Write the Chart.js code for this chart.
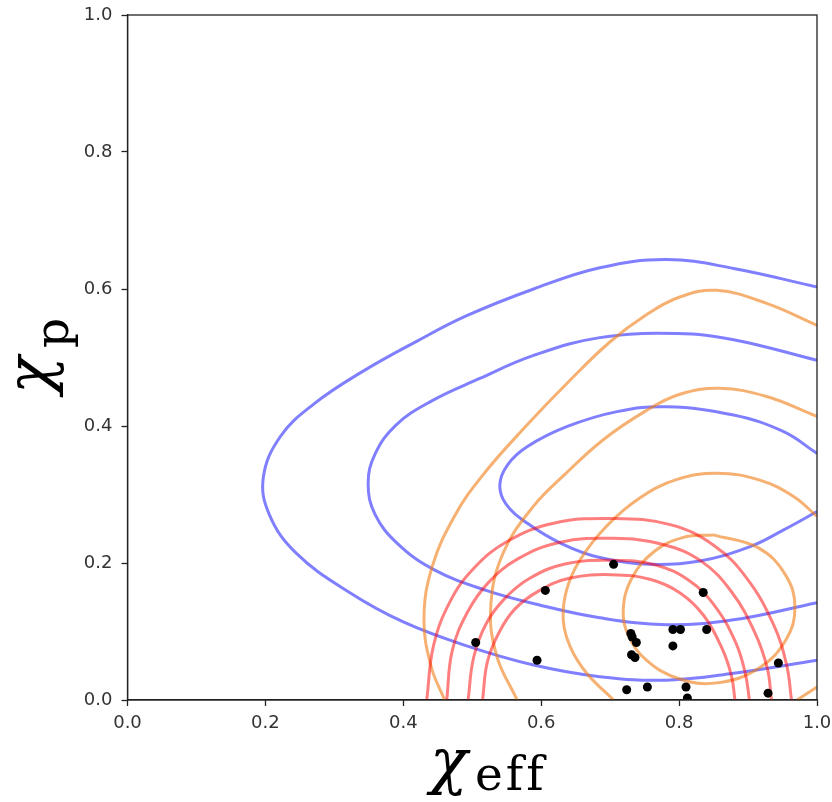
<!DOCTYPE html>
<html><head><meta charset="utf-8">
<script src="https://cdn.jsdelivr.net/npm/chart.js@4.4.0/dist/chart.umd.min.js"></script>
<style>html,body{margin:0;padding:0;background:#fff;} canvas{display:block;}</style>
</head><body>
<canvas id="c" width="832" height="802"></canvas>
<script>
// ---- data ----
const xTicks = [0.0, 0.2, 0.4, 0.6, 0.8, 1.0];
const yTicks = [0.0, 0.2, 0.4, 0.6, 0.8, 1.0];

// blue contours (chi_eff, chi_p)
const blueOuter = [[1.0,0.603],[0.879,0.630],[0.782,0.643],[0.685,0.631],[0.589,0.600],[0.492,0.561],[0.420,0.524],[0.340,0.479],[0.270,0.432],[0.222,0.385],[0.197,0.325],[0.206,0.270],[0.245,0.214],[0.322,0.157],[0.400,0.114],[0.492,0.079],[0.589,0.051],[0.685,0.034],[0.782,0.029],[0.879,0.039],[1.0,0.058]];
const blueMiddle = [[1.0,0.496],[0.879,0.526],[0.797,0.535],[0.685,0.529],[0.589,0.503],[0.510,0.469],[0.440,0.436],[0.389,0.401],[0.359,0.359],[0.349,0.316],[0.359,0.271],[0.392,0.228],[0.445,0.190],[0.520,0.160],[0.600,0.138],[0.685,0.120],[0.782,0.110],[0.879,0.117],[1.0,0.142]];
const blueInner = [[1.0,0.360],[0.951,0.392],[0.879,0.416],[0.782,0.428],[0.710,0.421],[0.637,0.399],[0.580,0.370],[0.551,0.343],[0.540,0.314],[0.549,0.286],[0.580,0.258],[0.630,0.228],[0.685,0.208],[0.758,0.198],[0.830,0.203],[0.903,0.224],[0.951,0.248],[1.0,0.275]];

// orange contours
const orangeOuter = [[0.460,0.0],[0.440,0.050],[0.430,0.120],[0.442,0.195],[0.474,0.268],[0.515,0.328],[0.579,0.401],[0.640,0.465],[0.700,0.523],[0.752,0.562],[0.800,0.588],[0.855,0.598],[0.927,0.579],[1.0,0.547]];
const orangeMiddle = [[0.565,0.0],[0.535,0.066],[0.527,0.139],[0.545,0.215],[0.588,0.282],[0.635,0.330],[0.690,0.380],[0.750,0.421],[0.800,0.446],[0.859,0.455],[0.927,0.443],[1.0,0.414]];
const orangeInner = [[0.705,0.0],[0.666,0.039],[0.642,0.078],[0.632,0.117],[0.637,0.161],[0.656,0.204],[0.695,0.254],[0.743,0.295],[0.797,0.322],[0.855,0.331],[0.917,0.321],[0.966,0.297],[1.0,0.268]];
const orangeInnerTail = [[0.971,0.0],[1.0,0.019]];
const orangeCore = [[0.850,0.241],[0.915,0.222],[0.954,0.183],[0.968,0.136],[0.955,0.088],[0.915,0.046],[0.855,0.025],[0.800,0.031],[0.753,0.058],[0.726,0.095],[0.719,0.132],[0.731,0.177],[0.763,0.216],[0.805,0.237],[0.850,0.241]];

// red contours
const red1 = [[0.434,0.0],[0.444,0.080],[0.468,0.144],[0.502,0.192],[0.550,0.231],[0.618,0.258],[0.705,0.265],[0.787,0.256],[0.850,0.226],[0.898,0.178],[0.937,0.110],[0.956,0.051],[0.963,0.0]];
const red2 = [[0.463,0.0],[0.471,0.072],[0.493,0.128],[0.523,0.171],[0.566,0.206],[0.626,0.230],[0.704,0.236],[0.777,0.227],[0.833,0.202],[0.876,0.158],[0.910,0.098],[0.928,0.046],[0.934,0.0]];
const red3 = [[0.494,0.0],[0.502,0.062],[0.520,0.111],[0.547,0.148],[0.584,0.178],[0.636,0.199],[0.703,0.204],[0.766,0.197],[0.815,0.174],[0.852,0.137],[0.882,0.084],[0.896,0.039],[0.902,0.0]];
const red4 = [[0.515,0.0],[0.522,0.056],[0.539,0.099],[0.562,0.133],[0.596,0.159],[0.642,0.178],[0.702,0.183],[0.759,0.176],[0.802,0.156],[0.836,0.123],[0.862,0.076],[0.876,0.035],[0.881,0.0]];

// events (black dots)
const eventsX = [0.705,0.606,0.835,0.505,0.594,0.730,0.732,0.738,0.731,0.736,0.791,0.802,0.840,0.791,0.944,0.724,0.754,0.810,0.812,0.929];
const eventsY = [0.198,0.160,0.157,0.084,0.058,0.097,0.092,0.084,0.066,0.062,0.103,0.103,0.103,0.079,0.054,0.015,0.019,0.019,0.003,0.010];

// ---- chart ----
const P = a => a.map(([x, y]) => ({x, y}));
const BLUE = 'rgba(0,0,255,0.5)', ORANGE = 'rgba(240,125,20,0.6)', RED = 'rgba(255,0,0,0.5)';
function contour(arr, color, order) {
  return {type: 'line', data: P(arr), borderColor: color, borderWidth: 3, pointRadius: 0,
          tension: 0.4, fill: false, showLine: true, clip: 0, order: order};
}
const datasets = [
  {type: 'scatter', data: eventsX.map((x, i) => ({x, y: eventsY[i]})), backgroundColor: '#000',
   borderColor: '#000', pointRadius: 4.5, borderWidth: 0, order: 0, clip: 0},
  contour(red1, RED, 1), contour(red2, RED, 1), contour(red3, RED, 1), contour(red4, RED, 1),
  contour(orangeOuter, ORANGE, 2), contour(orangeMiddle, ORANGE, 2), contour(orangeInner, ORANGE, 2),
  contour(orangeInnerTail, ORANGE, 2), contour(orangeCore, ORANGE, 2),
  contour(blueOuter, BLUE, 3), contour(blueMiddle, BLUE, 3), contour(blueInner, BLUE, 3)
];

const framePlugin = {
  id: 'frame',
  afterDatasetsDraw(chart) {
    const {ctx, chartArea: a} = chart;
    ctx.save(); ctx.strokeStyle = '#222'; ctx.lineWidth = 1.3;
    ctx.strokeRect(a.left, a.top, a.right - a.left, a.bottom - a.top);
    ctx.restore();
  }
};
const titlePlugin = {
  id: 'titles',
  afterDraw(chart) {
    const ctx = chart.ctx;
    ctx.save();
    ctx.fillStyle = '#000';
    ctx.textBaseline = 'alphabetic';
    ctx.textAlign = 'left';
    // x title: chi_eff
    ctx.font = 'italic 62px "DejaVu Serif"';
    ctx.fillText('χ', 430, 782);
    ctx.font = '47px "DejaVu Serif"';
    if ('letterSpacing' in ctx) ctx.letterSpacing = '3px';
    ctx.fillText('eff', 475, 790);
    if ('letterSpacing' in ctx) ctx.letterSpacing = '0px';
    // y title: chi_p (rotated)
    ctx.rotate(-Math.PI / 2);
    ctx.font = 'italic 62px "DejaVu Serif"';
    ctx.fillText('χ', -394, 50);
    ctx.font = '47px "DejaVu Serif"';
    ctx.fillText('p', -348, 68);
    ctx.restore();
  }
};

const tickFont = {family: 'DejaVu Sans', size: 18};
new Chart(document.getElementById('c'), {
  type: 'scatter',
  data: {datasets},
  options: {
    responsive: false, animation: false, devicePixelRatio: 1,
    layout: {padding: {top: 15, right: 15, left: 0, bottom: 0}},
    plugins: {legend: {display: false}, tooltip: {enabled: false}},
    scales: {
      x: {type: 'linear', min: 0, max: 1,
          afterBuildTicks: s => { s.ticks = xTicks.map(v => ({value: v})); },
          ticks: {callback: v => v.toFixed(1), font: tickFont, color: '#333', padding: 7, maxRotation: 0},
          grid: {drawOnChartArea: false, drawTicks: true, tickLength: 6, color: '#222', tickWidth: 1.3},
          border: {display: true, color: '#222', width: 1.3},
          afterFit: s => { s.height = 102; s.paddingLeft = 0; s.paddingRight = 0; }},
      y: {type: 'linear', min: 0, max: 1,
          afterBuildTicks: s => { s.ticks = yTicks.map(v => ({value: v})); },
          ticks: {callback: v => v.toFixed(1), font: tickFont, color: '#333', padding: 9},
          grid: {drawOnChartArea: false, drawTicks: true, tickLength: 6, color: '#222', tickWidth: 1.3},
          border: {display: true, color: '#222', width: 1.3},
          afterFit: s => { s.width = 127.5; s.paddingTop = 0; s.paddingBottom = 0; }}
    }
  },
  plugins: [framePlugin, titlePlugin]
});
</script>
</body></html>
